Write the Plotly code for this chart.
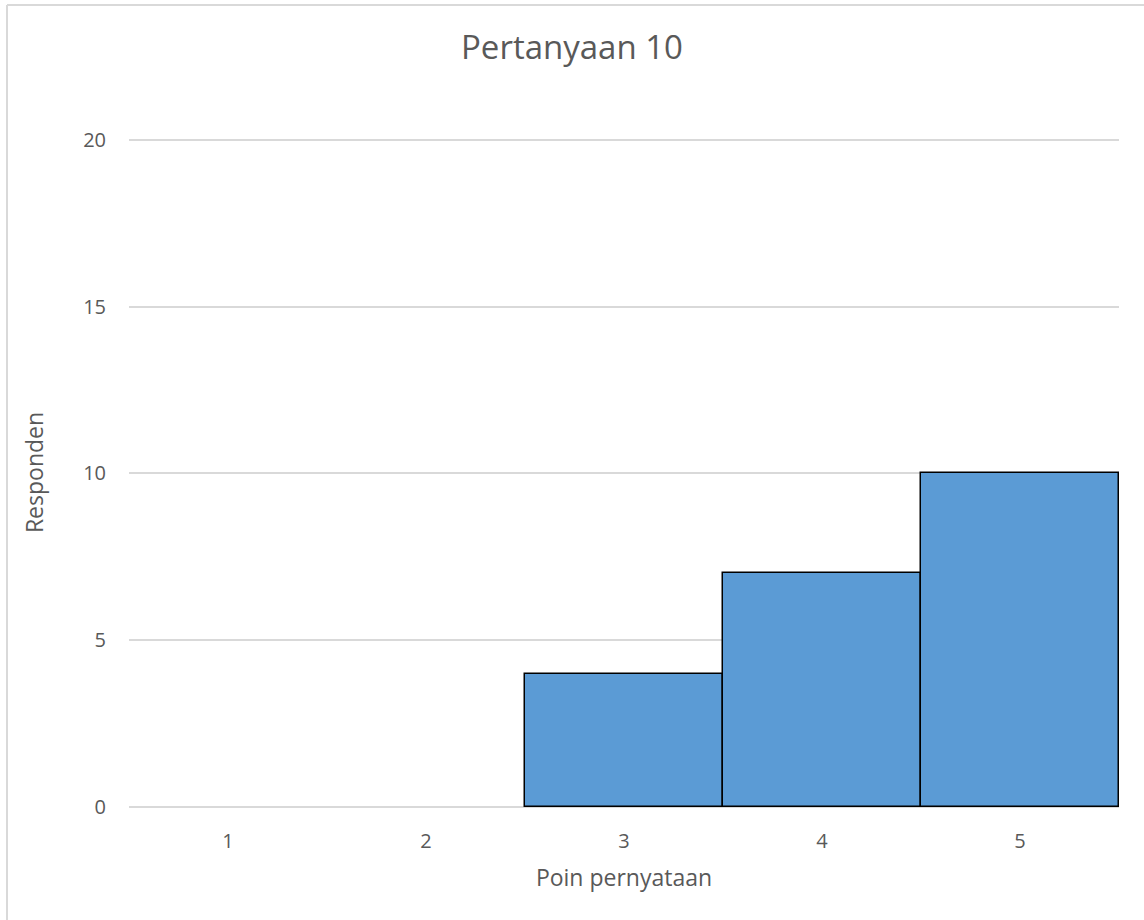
import plotly.graph_objects as go

categories = ["1", "2", "3", "4", "5"]
responden = [0, 0, 4, 7, 10]
y_ticks = [0, 5, 10, 15, 20]

W, H = 1144, 920
L, R, T, B = 129, 25, 138, 113
pw, ph = W - L - R, H - T - B

# Empty categories get no outline so the grey baseline shows through
outline_widths = [1.5 if v > 0 else 0 for v in responden]

fig = go.Figure(
    go.Bar(
        x=categories,
        y=responden,
        marker=dict(color="#5B9BD5", line=dict(color="#000000", width=outline_widths)),
        width=1.0,
    )
)

text_color = "#595959"
fig.update_layout(
    width=W,
    height=H,
    margin=dict(l=L, r=R, t=T, b=B),
    paper_bgcolor="white",
    plot_bgcolor="white",
    font=dict(family="Open Sans", color=text_color, size=20),
    title=dict(
        text="Pertanyaan 10",
        x=0.5,
        xanchor="center",
        y=1 - 47 / H,
        yanchor="middle",
        font=dict(size=33, color=text_color),
    ),
    showlegend=False,
    bargap=0,
    xaxis=dict(
        type="category",
        showgrid=False,
        showline=False,
        ticks="",
        ticklabelstandoff=20,
        tickfont=dict(size=20, color=text_color),
        title=dict(text="Poin pernyataan", font=dict(size=23, color=text_color), standoff=16),
    ),
    yaxis=dict(
        range=[0, 20.05],
        tickvals=y_ticks,
        showgrid=True,
        gridcolor="#D9D9D9",
        gridwidth=1.5,
        zeroline=True,
        zerolinecolor="#D9D9D9",
        zerolinewidth=1.5,
        ticks="",
        ticklabelstandoff=22,
        tickfont=dict(size=20, color=text_color),
        title=dict(text="Responden", font=dict(size=23, color=text_color), standoff=33),
    ),
)

# Thin frame lines along the top and left edges of the canvas
fx0 = (7 - L) / pw
fy_top = 1 + (T - 5) / ph
fy_bot = -(B + 20) / ph
fx1 = 1 + R / pw + 0.05
for x0, y0, x1, y1 in [(fx0, fy_top, fx1, fy_top), (fx0, fy_bot, fx0, fy_top)]:
    fig.add_shape(
        type="line", xref="paper", yref="paper",
        x0=x0, y0=y0, x1=x1, y1=y1,
        line=dict(color="#D9D9D9", width=2),
    )

fig.write_html("out.html")
